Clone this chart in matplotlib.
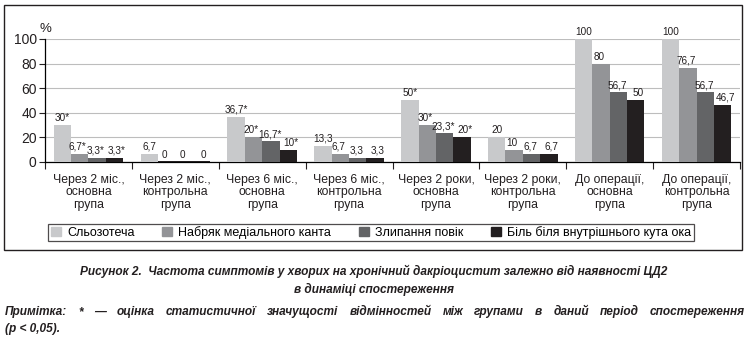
import matplotlib
matplotlib.use("Agg")
import matplotlib.pyplot as plt
from matplotlib.patches import Patch, Rectangle
import numpy as np

plt.rcParams["font.family"] = ["Liberation Sans Narrow", "Liberation Sans", "DejaVu Sans"]

# ── Data ──────────────────────────────────────────────────────────────────────
groups = [
    "Через 2 міс.,\nосновна\nгрупа",
    "Через 2 міс.,\nконтрольна\nгрупа",
    "Через 6 міс.,\nосновна\nгрупа",
    "Через 6 міс.,\nконтрольна\nгрупа",
    "Через 2 роки,\nосновна\nгрупа",
    "Через 2 роки,\nконтрольна\nгрупа",
    "До операції,\nосновна\nгрупа",
    "До операції,\nконтрольна\nгрупа",
]
series_names = [
    "Сльозотеча",
    "Набряк медіального канта",
    "Злипання повік",
    "Біль біля внутрішнього кута ока",
]
tearing   = [30, 6.7, 36.7, 13.3, 50, 20, 100, 100]
swelling  = [6.7, 0, 20, 6.7, 30, 10, 80, 76.7]
sticking  = [3.3, 0, 16.7, 3.3, 23.3, 6.7, 56.7, 56.7]
pain      = [3.3, 0, 10, 3.3, 20, 6.7, 50, 46.7]
tearing_lbl  = ["30*", "6,7", "36,7*", "13,3", "50*", "20", "100", "100"]
swelling_lbl = ["6,7*", "0", "20*", "6,7", "30*", "10", "80", "76,7"]
sticking_lbl = ["3,3*", "0", "16,7*", "3,3", "23,3*", "6,7", "56,7", "56,7"]
pain_lbl     = ["3,3*", "0", "10*", "3,3", "20*", "6,7", "50", "46,7"]

COLOURS = ["#c8c9cb", "#939497", "#636466", "#231f20"]
INK = "#231f20"

values = [tearing, swelling, sticking, pain]
labels = [tearing_lbl, swelling_lbl, sticking_lbl, pain_lbl]

# ── Figure ────────────────────────────────────────────────────────────────────
fig = plt.figure(figsize=(7.48, 3.44), dpi=100)
ax = fig.add_axes([45 / 748, 182 / 344, 695 / 748, 123 / 344])

x = np.arange(len(groups))
w = 0.2
nudge = [0, -1.5, -0.8, 1.8]   # points, keeps neighbouring value labels apart
for j, (vals, lbls) in enumerate(zip(values, labels)):
    pos = x + (j - 1.5) * w
    ax.bar(pos, vals, width=w, color=COLOURS[j], zorder=3)
    # zero values still show as a hairline on the axis
    ax.bar(pos, [0.8 if v == 0 else 0 for v in vals], width=w, color=COLOURS[3], zorder=3)
    for p, v, t in zip(pos, vals, lbls):
        ax.annotate(t, (p, v), xytext=(nudge[j], 1.5), textcoords="offset points",
                    ha="center", va="bottom", fontsize=7.2, color=INK,
                    annotation_clip=False, zorder=4)

ax.set_xlim(-0.5, len(groups) - 0.5)
ax.set_ylim(0, 100)
ax.set_yticks([0, 20, 40, 60, 80, 100])
ax.tick_params(axis="y", labelsize=10, length=4, width=0.8, colors=INK, pad=2)
ax.yaxis.grid(True, color="#bdbdbd", linewidth=0.8, zorder=0)
ax.set_axisbelow(True)

ax.set_xticks(np.arange(-0.5, len(groups) + 0.5, 1.0))
ax.set_xticklabels([])
ax.tick_params(axis="x", length=5, width=0.8, direction="out", colors=INK)
for xi, g in zip(x, groups):
    ax.text(xi, -9.5, g, ha="center", va="top", fontsize=8.8, linespacing=1.05,
            color=INK, clip_on=False)

for s in ["top", "right"]:
    ax.spines[s].set_visible(False)
ax.spines["left"].set_linewidth(0.9)
ax.spines["bottom"].set_linewidth(0.9)
ax.text(-0.5, 103, "%", ha="center", va="bottom", fontsize=9.5, color=INK)

# Legend
handles = [Patch(facecolor=c, edgecolor=c, label=n) for c, n in zip(COLOURS, series_names)]
leg = fig.legend(handles=handles, loc="center", bbox_to_anchor=(371 / 748, 1 - 232.5 / 344),
                 ncol=4, fontsize=9, frameon=True, fancybox=False, edgecolor=INK,
                 handlelength=0.8, handleheight=0.8, handletextpad=0.5, columnspacing=2.2,
                 borderpad=0.2, borderaxespad=0)
leg.get_frame().set_linewidth(0.9)

# Outer frame
fig.patches.append(Rectangle((4 / 748, 1 - 250 / 344), 738 / 748, 245 / 344,
                             transform=fig.transFigure, fill=False,
                             edgecolor=INK, linewidth=1.0))

# Caption
cap_kw = dict(fontsize=8.6, fontweight="bold", fontstyle="italic", color=INK)
fig.text(0.5, 1 - 275 / 344,
         "Рисунок 2.  Частота симптомів у хворих на хронічний дакріоцистит залежно від наявності ЦД2",
         ha="center", va="baseline", **cap_kw)
fig.text(0.5, 1 - 293 / 344, "в динаміці спостереження", ha="center", va="baseline", **cap_kw)

# justified note line: spread the words between x=5 and x=745
note = "Примітка: * — оцінка статистичної значущості відмінностей між групами в даний період спостереження"
words = note.split(" ")
renderer = fig.canvas.get_renderer()
word_txt = [fig.text(0, 1 - 315 / 344, wd, ha="left", va="baseline", **cap_kw) for wd in words]
widths = [t.get_window_extent(renderer).width for t in word_txt]
left, right = 5.0, 745.0
gap = (right - left - sum(widths)) / (len(words) - 1)
cur = left
for t, wd in zip(word_txt, widths):
    t.set_x(cur / 748)
    cur += wd + gap
fig.text(5 / 748, 1 - 332 / 344, "(p < 0,05).", ha="left", va="baseline", **cap_kw)

fig.savefig("out.png", dpi=100)
